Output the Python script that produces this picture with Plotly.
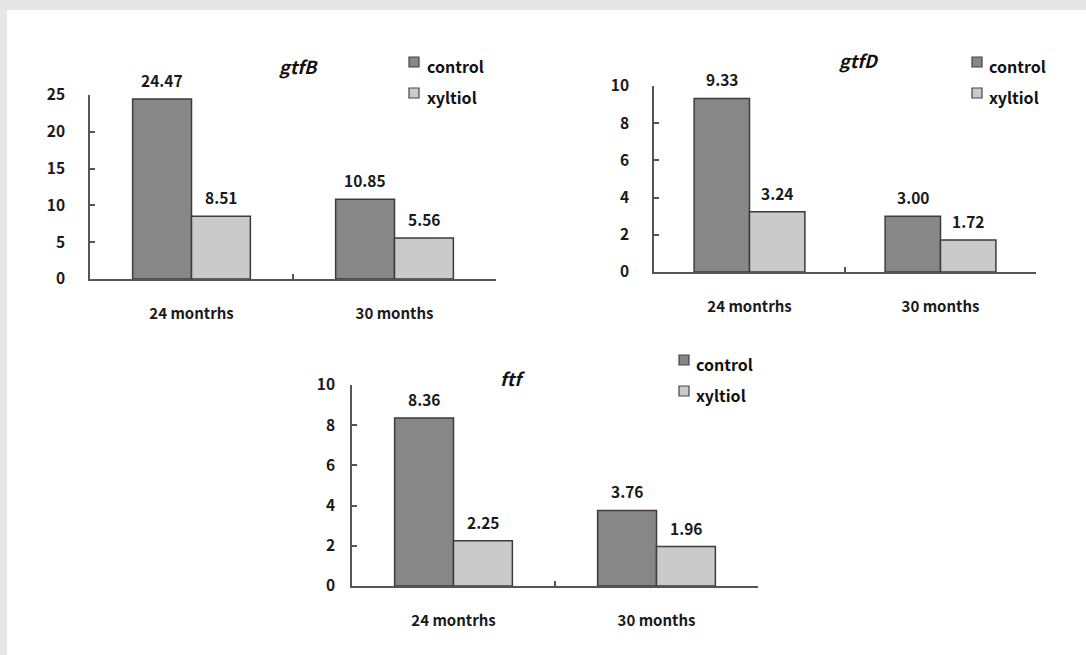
import plotly.graph_objects as go

W, H = 1086, 655

categories = ["24 montrhs", "30 months"]
series_names = ["control", "xyltiol"]

gtfB_control = [24.47, 10.85]
gtfB_xylitol = [8.51, 5.56]
gtfD_control = [9.33, 3.00]
gtfD_xylitol = [3.24, 1.72]
ftf_control = [8.36, 3.76]
ftf_xylitol = [2.25, 1.96]

titles = ["gtfB", "gtfD", "ftf"]
y_ranges = [[0, 25], [0, 10], [0, 10]]
y_dticks = [5, 2, 2]

colors = ["#878787", "#cacaca"]
edge = "#3c3c3c"
FONT = "Noto Sans CJK KR"
BARGAP = 0.42

# panel layout in pixels: (x0, x1, y_zero, y_top)
panels = [
    (90, 496, 279, 95),
    (654, 1036, 272, 86),
    (352, 758, 586, 385),
]
y_label_standoff = [20, 20, 12]
title_pos = [(298, 66), (858, 60), (512, 378)]
legend_pos = [(409, 57, 425), (972, 57, 987), (679, 355, 694)]

data = [
    (gtfB_control, gtfB_xylitol),
    (gtfD_control, gtfD_xylitol),
    (ftf_control, ftf_xylitol),
]

fig = go.Figure()
annotations = []
shapes = []

# grey frame on top and left
shapes.append(dict(type="rect", xref="paper", yref="paper", x0=0, x1=1,
                   y0=1 - 10 / H, y1=1, fillcolor="#e6e6e6", line_width=0, layer="below"))
shapes.append(dict(type="rect", xref="paper", yref="paper", x0=0, x1=7 / W,
                   y0=0, y1=1, fillcolor="#e6e6e6", line_width=0, layer="below"))

for i, (ctrl, xyl) in enumerate(data):
    n = i + 1
    xa = "x" if n == 1 else f"x{n}"
    ya = "y" if n == 1 else f"y{n}"
    x0, x1, yz, yt = panels[i]
    for s, vals in enumerate((ctrl, xyl)):
        fig.add_trace(go.Bar(
            x=categories, y=vals, name=series_names[s], xaxis=xa, yaxis=ya,
            marker=dict(color=colors[s], line=dict(color=edge, width=1.5)),
            showlegend=False,
        ))
    cat_px = (x1 - x0) / len(categories)
    bar_px = cat_px * (1 - BARGAP) / 2
    for s, vals in enumerate((ctrl, xyl)):
        for c, v in zip(categories, vals):
            annotations.append(dict(
                x=c, y=v, xref=xa, yref=ya, text=f"{v:.2f}", showarrow=False,
                xshift=(-0.5 if s == 0 else 0.5) * bar_px, yshift=19,
                yanchor="middle",
                font=dict(family=FONT, size=15.5, color="#1a1a1a", weight="bold"),
            ))
    axis_common = dict(showline=True, linecolor="#555555", linewidth=1.5,
                       showgrid=False, zeroline=False, ticks="inside",
                       ticklen=5, tickcolor="#555555", tickwidth=1.5,
                       automargin=False)
    fig.update_layout(**{
        ("xaxis" if n == 1 else f"xaxis{n}"): dict(
            domain=[x0 / W, x1 / W], anchor=ya, type="category",
            tickson="boundaries", ticklabelstandoff=20,
            tickfont=dict(family=FONT, size=15, color="#1a1a1a", weight="bold"),
            **axis_common),
        ("yaxis" if n == 1 else f"yaxis{n}"): dict(
            domain=[1 - yz / H, 1 - yt / H], anchor=xa, range=y_ranges[i],
            dtick=y_dticks[i], tick0=0, ticklabelstandoff=y_label_standoff[i],
            tickfont=dict(family=FONT, size=15.5, color="#1a1a1a", weight="bold"),
            **axis_common),
    })
    # title
    tx, ty = title_pos[i]
    annotations.append(dict(
        x=tx / W, y=1 - ty / H, xref="paper", yref="paper", text=f"<b><i>{titles[i]}</i></b>",
        showarrow=False, xanchor="center", yanchor="middle",
        font=dict(family=FONT, size=18, color="#111111"),
    ))
    # legend
    lx, ly, ltx = legend_pos[i]
    for s in range(2):
        sy = ly + s * 31
        shapes.append(dict(type="rect", xref="paper", yref="paper",
                           x0=lx / W, x1=(lx + 10) / W,
                           y0=1 - (sy + 10) / H, y1=1 - sy / H,
                           fillcolor=colors[s], line=dict(color="#444444", width=1.2)))
        annotations.append(dict(
            x=ltx / W, y=1 - (sy + 9) / H, xref="paper", yref="paper",
            text=series_names[s], showarrow=False, xanchor="left", yanchor="middle",
            font=dict(family=FONT, size=16, color="#111111", weight="bold"),
        ))

fig.update_layout(
    width=W, height=H, margin=dict(l=0, r=0, t=0, b=0, pad=0, autoexpand=False),
    paper_bgcolor="white", plot_bgcolor="rgba(0,0,0,0)",
    barmode="group", bargap=BARGAP, bargroupgap=0,
    showlegend=False, annotations=annotations, shapes=shapes,
)

fig.write_html(
    "out.html",
    config={"displayModeBar": False},
    post_script=(
        "document.body.style.margin='0';"
        "document.body.style.overflow='hidden';"
        "var d=document.getElementById('{plot_id}');"
        "d.style.position='fixed';d.style.top='0';d.style.left='0';"
    ),
)
